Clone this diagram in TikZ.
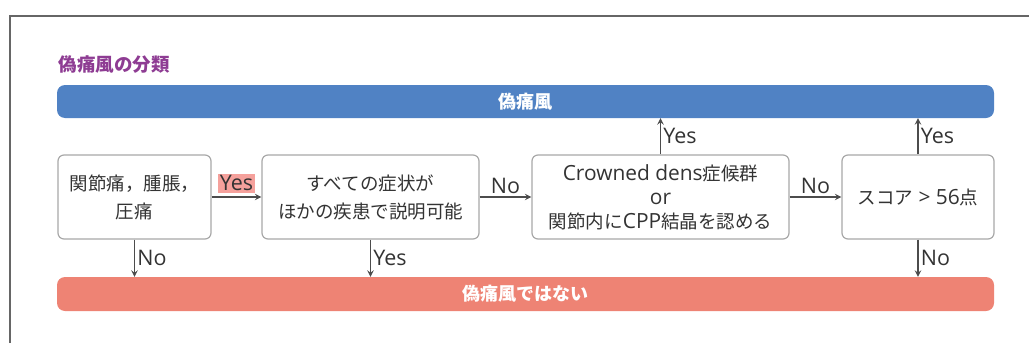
\documentclass[tikz,border=0pt]{standalone}
\usepackage{fontspec}
\setmainfont{Noto Sans CJK JP}
\newfontfamily\latin[Scale=1.13]{Open Sans}
\usetikzlibrary{shapes.geometric, arrows}
\definecolor{barblue}{HTML}{5082C4}
\definecolor{barred}{HTML}{EE8374}
\definecolor{titlepurple}{HTML}{8E3C93}
\definecolor{yespink}{HTML}{F5A19C}
\definecolor{boxgray}{HTML}{A8A8A8}
\definecolor{textgray}{HTML}{333333}
\tikzstyle{process} = [rectangle, rounded corners=6pt, minimum height=84pt, text centered, align=center, draw=boxgray, line width=1.2pt, text=textgray, font=\fontsize{18.5}{28}\selectfont]
\tikzstyle{bar} = [rectangle, rounded corners=8pt, minimum width=937pt, text=white, font=\fontsize{18}{22}\selectfont\bfseries]
\tikzstyle{arrow} = [line width=1.8pt, draw=black!70, ->, >=stealth]
\tikzstyle{answer} = [inner sep=2pt, text=textgray, font=\fontsize{19}{22}\selectfont\latin]

\begin{document}
\begin{tikzpicture}[x=1pt, y=-1pt, node distance=236pt]
\useasboundingbox (0,0) rectangle (1029,343);
\draw [line width=2pt, black!60] (10,343) -- (10,16) -- (1029,16);

\node (title) [anchor=west, text=titlepurple, font=\fontsize{18.5}{22}\selectfont\bfseries] at (55,65) {偽痛風の分類};

\node (gout) [bar, fill=barblue, minimum height=33pt] at (525.5,101.5) {偽痛風};
\node (notgout) [bar, fill=barred, minimum height=34pt] at (525.5,294) {偽痛風ではない};

\node (pain) [process, minimum width=153pt] at (134.5,197) {関節痛，腫脹，\\圧痛};

\node (other) [process, minimum width=217pt, right of=pain] {すべての症状が\\ほかの疾患で説明可能};

\node (cpp) [process, minimum width=257pt, right of=other, xshift=54pt, font=\fontsize{18.5}{24}\selectfont] {
	{\latin Crowned dens}症候群\\
	{\latin or}\\
	関節内に{\latin CPP}結晶を認める
};

\node (score) [process, minimum width=152pt, right of=cpp, xshift=21.5pt] {スコア{\latin\ >\ 56}点};

\draw [arrow] (pain) -- node [answer, above=3pt, fill=yespink] {Yes} (other);
\draw [arrow] (other) -- node [answer, above] {No} (cpp);
\draw [arrow] (cpp) -- node [answer, above] {No} (score);

\draw [arrow] (cpp.north) -- node [answer, right] {Yes} (cpp.north |- gout.south);
\draw [arrow] (score.north) -- node [answer, right] {Yes} (score.north |- gout.south);

\draw [arrow] (pain.south) -- node [answer, right] {No} (pain.south |- notgout.north);
\draw [arrow] (other.south) -- node [answer, right] {Yes} (other.south |- notgout.north);
\draw [arrow] (score.south) -- node [answer, right] {No} (score.south |- notgout.north);

\end{tikzpicture}
\end{document}
